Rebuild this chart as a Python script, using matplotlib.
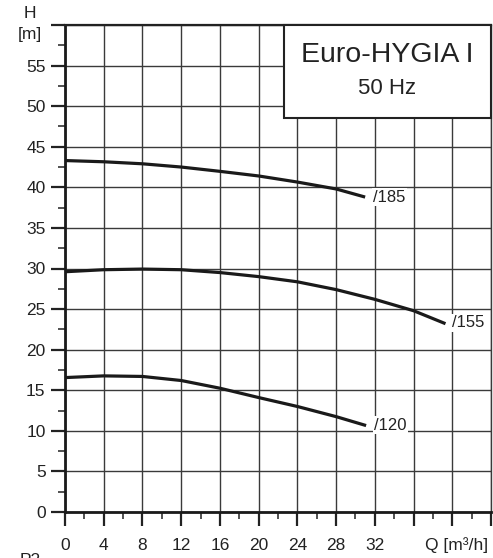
import matplotlib
matplotlib.use('Agg')
import matplotlib.pyplot as plt
from matplotlib.patches import Rectangle
from matplotlib.ticker import MultipleLocator

plt.rcParams['font.family'] = ['Liberation Sans', 'DejaVu Sans']

# pump curves: flow Q [m3/h] -> head H [m]
q_185 = [0, 4, 8, 12, 16, 20, 24, 28, 31.0]
h_185 = [43.3, 43.15, 42.9, 42.5, 41.97, 41.4, 40.65, 39.8, 38.8]

q_155 = [0, 4, 8, 12, 16, 20, 24, 28, 32, 36, 39.3]
h_155 = [29.6, 29.85, 29.93, 29.85, 29.5, 29.0, 28.36, 27.4, 26.2, 24.8, 23.2]

q_120 = [0, 4, 8, 12, 16, 20, 24, 28, 31.1]
h_120 = [16.56, 16.77, 16.7, 16.2, 15.25, 14.1, 13.0, 11.75, 10.65]

curve_names = ['/185', '/155', '/120']
label_pos = [(31.8, 38.8), (40.0, 23.3), (31.9, 10.7)]

x_ticks = [0, 4, 8, 12, 16, 20, 24, 28, 32, 36, 40, 44]
x_labels = ['0', '4', '8', '12', '16', '20', '24', '28', '32', '', '', '']
y_ticks = list(range(0, 61, 5))
y_labels = [str(v) for v in y_ticks[:-1]] + ['']

title = 'Euro-HYGIA I'
subtitle = '50 Hz'

fig = plt.figure(figsize=(4.93, 5.58), dpi=100)
ax = fig.add_axes([65 / 493, 1 - 512 / 558, 426 / 493, 487 / 558])

line_col = '#1a1a1a'
grid_col = '#3a3a3a'

for q, h in [(q_185, h_185), (q_155, h_155), (q_120, h_120)]:
    ax.plot(q, h, color=line_col, lw=2.3, zorder=4, solid_capstyle='butt')

for name, (x, y) in zip(curve_names, label_pos):
    ax.text(x, y, name, fontsize=12, ha='left', va='center', color='#222222',
            zorder=5, bbox=dict(facecolor='white', edgecolor='none', pad=1.0))

ax.set_xlim(0, 44)
ax.set_ylim(0, 60)
ax.set_xticks(x_ticks)
ax.set_xticklabels(x_labels)
ax.set_yticks(y_ticks)
ax.set_yticklabels(y_labels)
ax.xaxis.set_minor_locator(MultipleLocator(2))
ax.yaxis.set_minor_locator(MultipleLocator(2.5))
ax.tick_params(axis='both', which='major', direction='out', length=10,
               width=1.6, colors='#222222', labelsize=12.5)
ax.tick_params(axis='x', which='major', pad=9)
ax.tick_params(axis='y', which='major', pad=4)
ax.tick_params(axis='both', which='minor', direction='out', length=5,
               width=1.2, colors='#333333')
ax.grid(True, which='major', color=grid_col, lw=1.0)
ax.set_axisbelow(True)

ax.spines['left'].set_linewidth(2.0)
ax.spines['bottom'].set_linewidth(2.0)
ax.spines['left'].set_color('#1a1a1a')
ax.spines['bottom'].set_color('#1a1a1a')
ax.spines['top'].set_linewidth(1.6)
ax.spines['right'].set_linewidth(1.0)
ax.spines['top'].set_color('#222222')
ax.spines['right'].set_color(grid_col)

# title box in the upper right corner
box = Rectangle((22.6, 48.6), 44 - 22.6, 60 - 48.6, facecolor='white',
                edgecolor='#222222', lw=1.5, zorder=6, clip_on=False)
ax.add_patch(box)
ax.text(33.3, 56.3, title, fontsize=20.5, ha='center', va='center',
        color='#222222', zorder=7)
ax.text(33.3, 52.2, subtitle, fontsize=16, ha='center', va='center',
        color='#222222', zorder=7)

# axis captions
fig.text(30 / 493, 1 - 13 / 558, 'H', fontsize=12.5, ha='center', va='center',
         color='#222222')
fig.text(30 / 493, 1 - 34 / 558, '[m]', fontsize=12.5, ha='center', va='center',
         color='#222222')
fig.text(457 / 493, 1 - 545 / 558, 'Q [m³/h]', fontsize=12.5, ha='center',
         va='center', color='#222222')
fig.text(20 / 493, 1 - 553 / 558, 'P2', fontsize=12.5, ha='left', va='top',
         color='#222222')

fig.savefig('out.png', dpi=100)
